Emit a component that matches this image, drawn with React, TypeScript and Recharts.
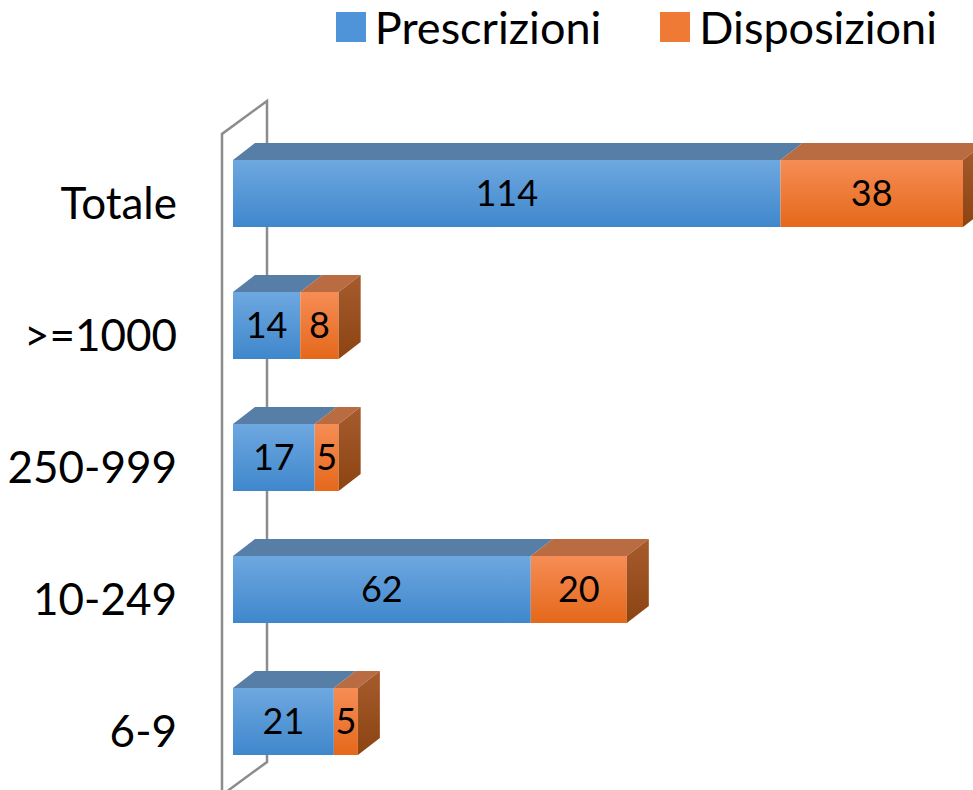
import { BarChart, Bar, XAxis, YAxis, CartesianGrid, LabelList } from 'recharts'

const categories = ['Totale', '>=1000', '250-999', '10-249', '6-9']
const prescrizioni = [114, 14, 17, 62, 21]
const disposizioni = [38, 8, 5, 20, 5]
const seriesNames = ['Prescrizioni', 'Disposizioni']

const data = categories.map((name, i) => ({
    name,
    prescrizioni: prescrizioni[i],
    disposizioni: disposizioni[i],
}))

// depth of the fake 3d
const DX = 22
const DY = 17

const colors = {
    blue: { top: '#6ea8e0', bottom: '#3f87cc', lid: '#567ea6' },
    orange: { top: '#f68d55', bottom: '#e5681b', lid: '#b96b42', sideTop: '#a65b2d', sideBottom: '#8c4411' },
}

function PrescrShape(props: any) {
    const { x, y, width, height } = props
    return (
        <g>
            <rect x={x} y={y} width={width} height={height} fill="url(#gBlue)" />
            <path d={`M${x},${y} L${x + DX},${y - DY} L${x + width + DX},${y - DY} L${x + width},${y} Z`} fill={colors.blue.lid} />
        </g>
    )
}

function DispShape(props: any) {
    const { x, y, width, height } = props
    const r = x + width
    return (
        <g>
            <rect x={x} y={y} width={width} height={height} fill="url(#gOrange)" />
            <path d={`M${x},${y} L${x + DX},${y - DY} L${r + DX},${y - DY} L${r},${y} Z`} fill={colors.orange.lid} />
            <path d={`M${r},${y} L${r + DX},${y - DY} L${r + DX},${y + height - DY} L${r},${y + height} Z`} fill="url(#gOrangeSide)" />
        </g>
    )
}

// the back wall, drawn from the grid line at x = 0
function Wall(props: any) {
    if (props.index !== 0) return <g key={props.key} />
    const x = props.x1
    const top = Math.min(props.y1, props.y2)
    const bottom = Math.max(props.y1, props.y2)
    const fx = x - 11
    const bx = x + 34
    const ft = top + 7
    const fb = bottom + 8
    return (
        <g key={props.key} fill="none" stroke="#8c8c8c" strokeWidth={2.5}>
            <path d={`M${fx},${fb} L${fx},${ft} L${bx},${ft - 33} L${bx},${fb - 33} L${fx},${fb}`} />
        </g>
    )
}

function App() {
    const legendColors = ['#4f94d8', '#ee7a36']
    return (
        <div style={{ position: 'absolute', left: 0, top: 0, width: 973, height: 790, background: '#fff', fontFamily: 'Lato, "Open Sans", sans-serif', overflow: 'hidden' }}>
            <div style={{ position: 'absolute', top: 2, right: 36, display: 'flex', alignItems: 'center', fontSize: 45, lineHeight: '50px', color: '#000', whiteSpace: 'nowrap' }}>
                {seriesNames.map((s, i) => (
                    <div key={s} style={{ display: 'flex', alignItems: 'center', marginLeft: i ? 59 : 0 }}>
                        <span style={{ display: 'inline-block', width: 30, height: 30, background: legendColors[i], marginRight: 9 }} />
                        <span>{s}</span>
                    </div>
                ))}
            </div>
            <BarChart width={973} height={790} data={data} layout="vertical" margin={{ top: 127, right: 10, bottom: 3, left: 0 }} barSize={67}>
                <defs>
                    <linearGradient id="gBlue" x1="0" y1="0" x2="0" y2="1">
                        <stop offset="0%" stopColor={colors.blue.top} />
                        <stop offset="100%" stopColor={colors.blue.bottom} />
                    </linearGradient>
                    <linearGradient id="gOrange" x1="0" y1="0" x2="0" y2="1">
                        <stop offset="0%" stopColor={colors.orange.top} />
                        <stop offset="100%" stopColor={colors.orange.bottom} />
                    </linearGradient>
                    <linearGradient id="gOrangeSide" x1="0" y1="0" x2="0" y2="1">
                        <stop offset="0%" stopColor={colors.orange.sideTop} />
                        <stop offset="100%" stopColor={colors.orange.sideBottom} />
                    </linearGradient>
                </defs>
                <CartesianGrid horizontal={false} vertical={Wall} />
                <XAxis type="number" domain={[0, 152]} ticks={[0, 152]} hide />
                <YAxis type="category" dataKey="name" width={233} tickLine={false} axisLine={false} tickSize={0} tickMargin={56}
                    tick={{ fontSize: 44, fill: '#000', dy: 10 }} />
                <Bar dataKey="prescrizioni" stackId="a" name={seriesNames[0]} shape={PrescrShape} isAnimationActive={false}>
                    <LabelList dataKey="prescrizioni" position="center" fill="#000" fontSize={36} />
                </Bar>
                <Bar dataKey="disposizioni" stackId="a" name={seriesNames[1]} shape={DispShape} isAnimationActive={false}>
                    <LabelList dataKey="disposizioni" position="center" fill="#000" fontSize={36} />
                </Bar>
            </BarChart>
        </div>
    )
}

export default App
